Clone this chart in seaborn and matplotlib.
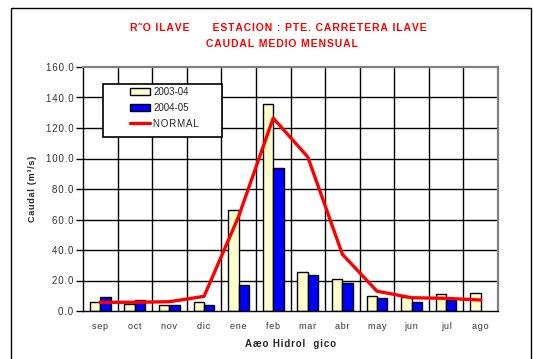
import numpy as np
import pandas as pd
import matplotlib
matplotlib.use("Agg")
import matplotlib.pyplot as plt
import seaborn as sns
from matplotlib.patches import Patch, Rectangle
from matplotlib.lines import Line2D

# Monthly mean discharge (m3/s), hydrological year Sep-Aug
months = ["sep", "oct", "nov", "dic", "ene", "feb", "mar", "abr", "may", "jun", "jul", "ago"]
caudal_2003_04 = [5.7, 4.8, 3.9, 6.1, 66.0, 135.5, 25.8, 21.0, 9.8, 9.4, 11.1, 11.6]
caudal_2004_05 = [9.2, 7.0, 3.7, 4.2, 17.3, 93.5, 23.6, 18.1, 8.3, 5.9, 7.2, np.nan]
caudal_normal = [5.7, 5.7, 6.1, 9.6, 62.0, 126.5, 101.0, 37.2, 13.0, 8.7, 8.3, 7.2]
y_ticks = [0, 20, 40, 60, 80, 100, 120, 140, 160]
series_names = ["2003-04", "2004-05"]
series_colors = ["#FFFFCC", "#0000FF"]

FAM = ["Liberation Sans", "DejaVu Sans"]
W, H = 533, 359


def spaced(s, sep="\u200a"):
    return sep.join(s)


def fx(px):
    return px / W


def fy(py):
    return 1 - py / H


bars = pd.DataFrame({
    "mes": months * 2,
    "caudal": caudal_2003_04 + caudal_2004_05,
    "serie": [series_names[0]] * 12 + [series_names[1]] * 12,
})
normal = pd.DataFrame({"mes": months, "caudal": caudal_normal})

sns.set_style("white")
plt.rcParams["font.family"] = FAM

fig = plt.figure(figsize=(W / 100, H / 100), dpi=100)
ax = fig.add_axes([fx(83), fy(311), fx(498) - fx(83), fy(67) - fy(311)])

sns.barplot(data=bars, x="mes", y="caudal", hue="serie", order=months,
            hue_order=series_names, palette=series_colors, width=0.6,
            edgecolor="black", linewidth=1.0, saturation=1, ax=ax, zorder=3,
            legend=False)
sns.lineplot(data=normal, x="mes", y="caudal", color="#FF0000", linewidth=2.4,
             ax=ax, zorder=4, sort=False)

ax.set_xlim(-0.5, 11.5)
ax.set_ylim(0, 160)

# grid: category boundaries and horizontal levels
for xb in np.arange(0.5, 11.5, 1.0):
    ax.axvline(xb, color="black", linewidth=1.0, zorder=1)
for yv in y_ticks[1:-1]:
    ax.axhline(yv, color="black", linewidth=1.0, zorder=1)

for side in ["left", "bottom"]:
    ax.spines[side].set_color("black")
    ax.spines[side].set_linewidth(1.0)
for side in ["top", "right"]:
    ax.spines[side].set_visible(True)
    ax.spines[side].set_color("#808080")
    ax.spines[side].set_linewidth(1.6)
ax.spines["bottom"].set_zorder(5)

ax.set_yticks(y_ticks)
ax.set_yticklabels([spaced(f"{v:.1f}") for v in y_ticks], fontsize=7, color="#333333")
ax.set_xticks(range(12))
ax.set_xticklabels([spaced(m) for m in months], fontsize=6.5, color="#333333")
ax.set_xticks(np.arange(-0.5, 12, 1.0), minor=True)
ax.tick_params(axis="x", which="major", length=0, pad=8)
ax.tick_params(axis="x", which="minor", length=4, width=1, color="black", direction="out")
ax.tick_params(axis="y", length=5, width=1, color="black", direction="out", left=True, pad=2)

ax.set_xlabel(spaced("Aæo Hidrol  gico"), fontsize=7, fontweight="bold", labelpad=6)
ax.set_ylabel(spaced("Caudal (m³/s)"), fontsize=6.5, fontweight="bold", labelpad=6)

# title
fig.text(fx(278), fy(28), spaced("R˜O ILAVE") + "        " + spaced("ESTACION : PTE. CARRETERA ILAVE"),
         ha="center", va="center", color="#FF0000", fontsize=7.5, fontweight="bold")
fig.text(fx(282), fy(44), spaced("CAUDAL MEDIO MENSUAL"),
         ha="center", va="center", color="#FF0000", fontsize=7.5, fontweight="bold")

# legend frame and entries
fig.add_artist(Rectangle((fx(103), fy(137)), fx(222) - fx(103), fy(84) - fy(137),
                         transform=fig.transFigure, facecolor="white",
                         edgecolor="black", linewidth=1.2, zorder=6))
handles = [
    Patch(facecolor=series_colors[0], edgecolor="black", linewidth=1.0),
    Patch(facecolor=series_colors[1], edgecolor="black", linewidth=1.0),
    Line2D([0], [0], color="#FF0000", linewidth=2.4),
]
labels = [series_names[0], series_names[1], spaced("NORMAL")]
leg = fig.legend(handles, labels, loc="upper left",
                 bbox_to_anchor=(fx(130), fy(87)),
                 fontsize=7, frameon=False,
                 handlelength=2.1, handleheight=0.7, handletextpad=0.3,
                 labelspacing=0.6, borderpad=0, borderaxespad=0)
leg.set_zorder(7)

# outer border
fig.add_artist(Rectangle((fx(11), -0.02), fx(531) - fx(11), fy(8) + 0.02,
                         transform=fig.transFigure, fill=False,
                         edgecolor="black", linewidth=1.0))

fig.savefig("out.png", dpi=100)
